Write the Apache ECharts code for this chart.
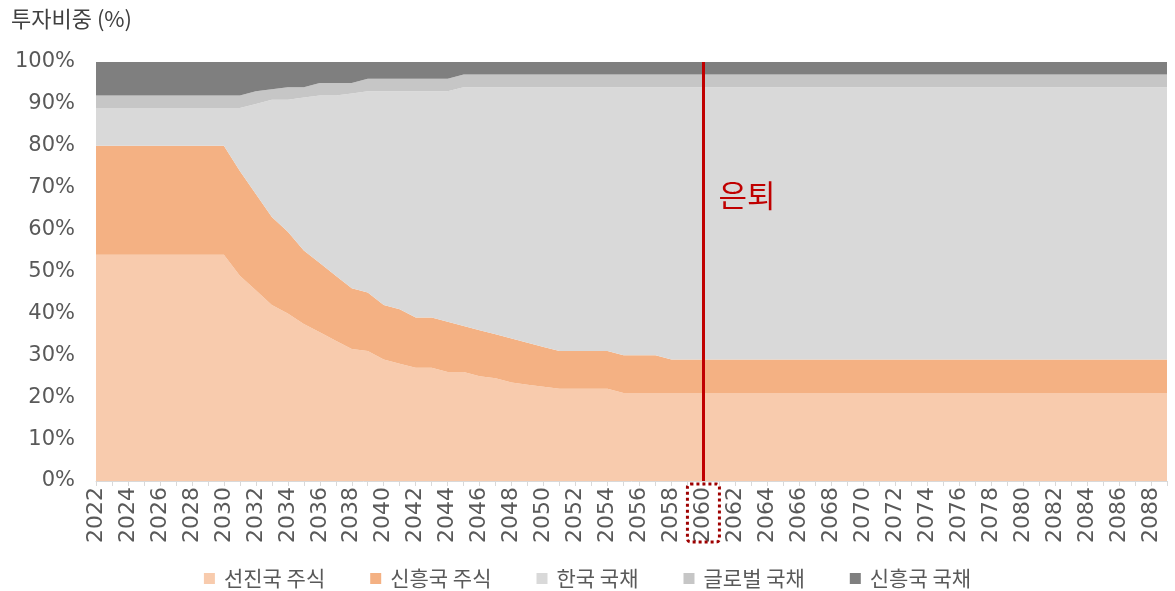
<!DOCTYPE html>
<html>
<head>
<meta charset="utf-8">
<script src="https://cdn.jsdelivr.net/npm/echarts@6/dist/echarts.min.js"></script>
<style>
html,body{margin:0;padding:0;background:#fff;}
#chart{width:1175px;height:591px;}
</style>
</head>
<body>
<div id="chart"></div>
<script>
// Categories (years)
const years = [
  '2022','2023','2024','2025','2026','2027','2028','2029','2030','2031',
  '2032','2033','2034','2035','2036','2037','2038','2039','2040','2041',
  '2042','2043','2044','2045','2046','2047','2048','2049','2050','2051',
  '2052','2053','2054','2055','2056','2057','2058','2059','2060','2061',
  '2062','2063','2064','2065','2066','2067','2068','2069','2070','2071',
  '2072','2073','2074','2075','2076','2077','2078','2079','2080','2081',
  '2082','2083','2084','2085','2086','2087','2088','2089'
];
const seriesNames = ['선진국 주식','신흥국 주식','한국 국채','글로벌 국채','신흥국 국채'];
const yTickLabels = ['0%','10%','20%','30%','40%','50%','60%','70%','80%','90%','100%'];
const retireYear = '2060';
const retireLabel = '은퇴';
const titleText = '투자비중 (%)';

// Series values (%), 2022..2089
const devEquity = [
  54,54,54,54,54,54,54,54,54,49,
  45.5,42,40,37.5,35.5,33.5,31.5,31,29,28,
  27,27,26,26,25,24.5,23.5,23,22.5,22,
  22,22,22,21,21,21,21,21,21,21,
  21,21,21,21,21,21,21,21,21,21,
  21,21,21,21,21,21,21,21,21,21,
  21,21,21,21,21,21,21,21
];
const emEquity = [
  26,26,26,26,26,26,26,26,26,25,
  23,21,19.5,17.5,16.5,15.5,14.5,14,13,13,
  12,12,12,11,11,10.5,10.5,10,9.5,9,
  9,9,9,9,9,9,8,8,8,8,
  8,8,8,8,8,8,8,8,8,8,
  8,8,8,8,8,8,8,8,8,8,
  8,8,8,8,8,8,8,8
];
const krBond = [
  9,9,9,9,9,9,9,9,9,15,
  21.5,28,31.5,36.5,40,43,46.5,48,51,52,
  54,54,55,57,58,59,60,61,62,63,
  63,63,63,64,64,64,65,65,65,65,
  65,65,65,65,65,65,65,65,65,65,
  65,65,65,65,65,65,65,65,65,65,
  65,65,65,65,65,65,65,65
];
const globalBond = [
  3,3,3,3,3,3,3,3,3,3,
  3,2.5,3,2.5,3,3,2.5,3,3,3,
  3,3,3,3,3,3,3,3,3,3,
  3,3,3,3,3,3,3,3,3,3,
  3,3,3,3,3,3,3,3,3,3,
  3,3,3,3,3,3,3,3,3,3,
  3,3,3,3,3,3,3,3
];
const emBond = [
  8,8,8,8,8,8,8,8,8,8,
  7,6.5,6,6,5,5,5,4,4,4,
  4,4,4,3,3,3,3,3,3,3,
  3,3,3,3,3,3,3,3,3,3,
  3,3,3,3,3,3,3,3,3,3,
  3,3,3,3,3,3,3,3,3,3,
  3,3,3,3,3,3,3,3
];

const colors = ['#F8CBAD','#F4B183','#D9D9D9','#C6C6C6','#7F7F7F'];
const dataList = [devEquity, emEquity, krBond, globalBond, emBond];

const chart = echarts.init(document.getElementById('chart'), null, {renderer:'canvas'});
const fontFam = '"Noto Sans CJK KR","Noto Sans",sans-serif';
const numFam = '"DejaVu Sans","Noto Sans",sans-serif';

const series = dataList.map((d, i) => {
  const s = {
    name: seriesNames[i],
    type: 'line',
    stack: 'total',
    data: d,
    symbol: 'none',
    lineStyle: {width: 0},
    itemStyle: {color: colors[i]},
    areaStyle: {color: colors[i], opacity: 1},
    emphasis: {disabled: true},
    z: 2
  };
  if (i === 4) {
    s.markLine = {
      silent: true,
      symbol: 'none',
      animation: false,
      lineStyle: {color: '#C00000', width: 3, type: 'solid'},
      label: {show: false},
      data: [{xAxis: retireYear}],
      z: 10
    };
  }
  return s;
});

chart.setOption({
  animation: false,
  backgroundColor: '#ffffff',
  title: {
    text: titleText,
    left: 6, top: 3,
    textStyle: {fontFamily: fontFam, fontSize: 22, fontWeight: 'normal', color: '#404040'}
  },
  legend: {
    data: seriesNames,
    top: 563,
    left: 'center',
    icon: 'rect',
    itemWidth: 11,
    itemHeight: 11,
    itemGap: 45,
    textStyle: {fontFamily: fontFam, fontSize: 21, color: '#595959', padding: [0,0,0,4]}
  },
  grid: {left: 96, right: 8, top: 62, bottom: 110, containLabel: false},
  xAxis: {
    type: 'category',
    data: years,
    boundaryGap: false,
    axisLine: {show: true, lineStyle: {color: '#D9D9D9', width: 1}},
    axisTick: {show: true, interval: 0, length: 5, lineStyle: {color: '#D9D9D9'}},
    axisLabel: {
      interval: 1, rotate: 90, margin: 6,
      fontFamily: numFam, fontSize: 22, color: '#595959'
    },
    splitLine: {show: false}
  },
  yAxis: {
    type: 'value',
    min: 0, max: 100, interval: 10,
    axisLine: {show: false},
    axisTick: {show: false},
    splitLine: {show: false},
    axisLabel: {
      margin: 21,
      fontFamily: numFam, fontSize: 21, color: '#595959',
      formatter: (v) => yTickLabels[Math.round(v / 10)]
    }
  },
  series: series
});

// Annotations positioned from the axis scales
const px = chart.convertToPixel({xAxisIndex: 0, yAxisIndex: 0}, [retireYear, 67.8]);
const pxBase = chart.convertToPixel({xAxisIndex: 0, yAxisIndex: 0}, [retireYear, 0]);
chart.setOption({
  graphic: [
    {
      type: 'text',
      left: px[0] + 15,
      top: px[1] - 17,
      style: {text: retireLabel, fontFamily: fontFam, fontSize: 31, fill: '#C00000'},
      z: 100
    },
    {
      type: 'rect',
      shape: {x: pxBase[0] - 16, y: pxBase[1] + 3, width: 32, height: 58, r: 3},
      style: {fill: 'none', stroke: '#9E0000', lineWidth: 3, lineDash: [3, 3]},
      z: 100
    }
  ]
});
</script>
</body>
</html>
